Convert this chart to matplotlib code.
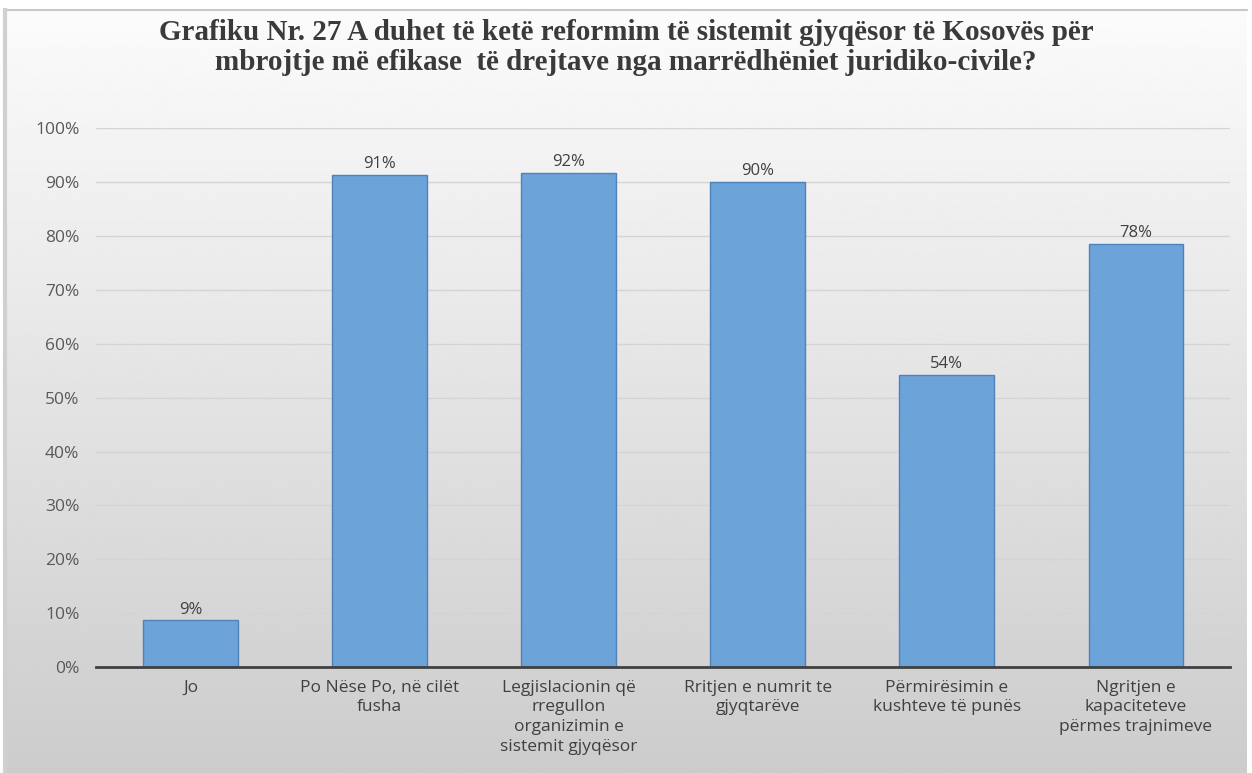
import numpy as np
import matplotlib
matplotlib.use("Agg")
import matplotlib.pyplot as plt

# data
categories = ["Jo", "Po Nëse Po, në cilët\nfusha", "Legjislacionin që\nrregullon\norganizimin e\nsistemit gjyqësor",
              "Rritjen e numrit te\ngjyqtarëve", "Përmirësimin e\nkushteve të punës",
              "Ngritjen e\nkapaciteteve\npërmes trajnimeve"]
values = [8.7, 91.3, 91.7, 90.1, 54.3, 78.5]
value_labels = ["9%", "91%", "92%", "90%", "54%", "78%"]
yticks = [0, 10, 20, 30, 40, 50, 60, 70, 80, 90, 100]

title = ("Grafiku Nr. 27 A duhet të ketë reformim të sistemit gjyqësor të Kosovës për\n"
         "mbrojtje më efikase  të drejtave nga marrëdhëniet juridiko-civile?")

fig = plt.figure(figsize=(12.52, 7.73), dpi=100)
fig.patch.set_facecolor("white")

# gradient background (light at top -> gray at bottom), white strip on top
top = 1 - 10 / 773
bg = fig.add_axes([0, 0, 1, 1], zorder=-1)
grad = np.linspace(0.985, 0.80, 256).reshape(-1, 1)
bg.imshow(grad, cmap="gray", vmin=0, vmax=1, aspect="auto", extent=[0.004, 0.996, 0, top])
bg.plot([0.004, 0.996], [top, top], color="#c8c8c8", lw=1.5)
bg.plot([0.004, 0.004], [0, top], color="#d0d0d0", lw=3)
bg.set_xlim(0, 1)
bg.set_ylim(0, 1)
bg.axis("off")

ax = fig.add_axes([0.0767, 0.137, 0.906, 0.697])
ax.patch.set_alpha(0)
x = np.arange(len(categories))
bars = ax.bar(x, values, width=0.5, color="#6ca3d9", edgecolor="#4f81bd", linewidth=1.0, zorder=3)

for b, lab in zip(bars, value_labels):
    ax.text(b.get_x() + b.get_width() / 2, b.get_height() + 0.5, lab, ha="center", va="bottom",
            fontsize=12, color="#404040", family="Open Sans")

ax.set_xlim(-0.5, len(categories) - 0.5)
ax.set_ylim(0, 100)
ax.set_yticks(yticks)
ax.set_yticklabels([f"{t}%" for t in yticks], family="Open Sans", fontsize=12.5, color="#595959")
ax.set_xticks(x)
ax.set_xticklabels(categories, family="Open Sans", fontsize=12.5, color="#404040", linespacing=1.32)
ax.tick_params(axis="both", length=0)
ax.tick_params(axis="y", pad=12)
ax.tick_params(axis="x", pad=9)
ax.grid(axis="y", color="#d4d4d4", lw=1, zorder=0)
for s in ["top", "right", "left"]:
    ax.spines[s].set_visible(False)
ax.spines["bottom"].set_color("#404040")
ax.spines["bottom"].set_linewidth(2)
ax.spines["bottom"].set_zorder(4)

fig.text(0.5, 0.976, title, ha="center", va="top", fontsize=21, fontweight="bold",
         family="Liberation Serif", color="#3a3a3a", linespacing=1.17)

fig.savefig("out.png", dpi=100)
